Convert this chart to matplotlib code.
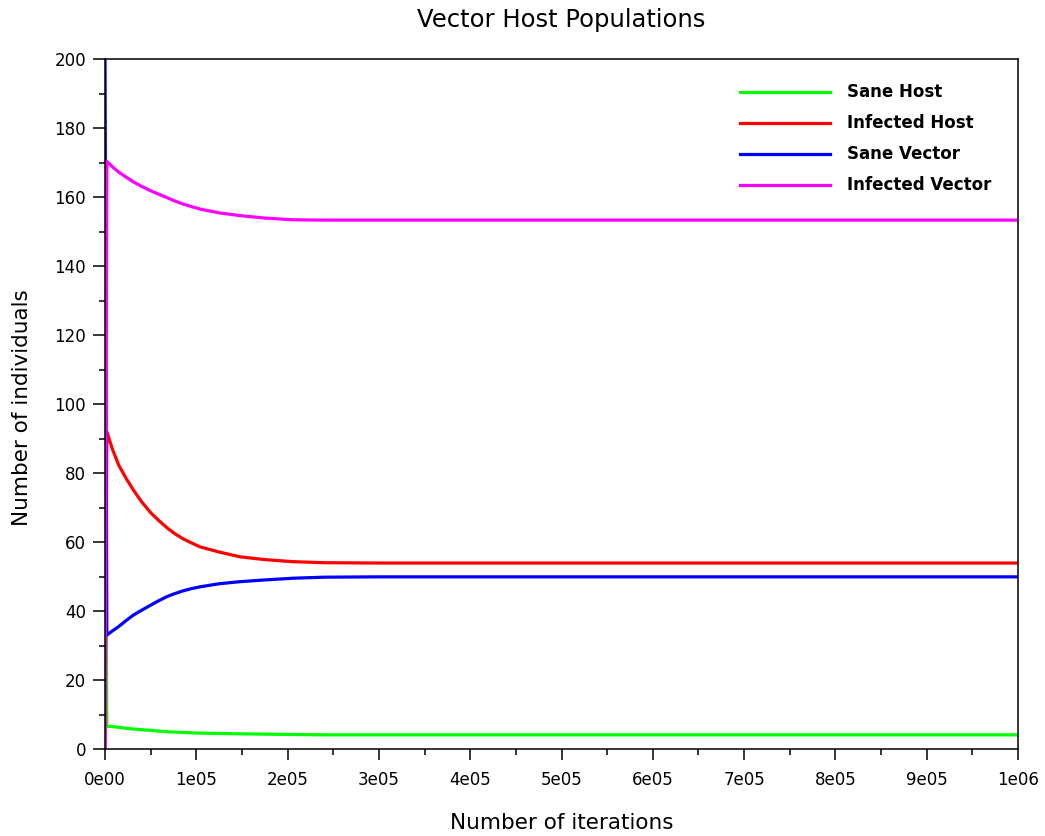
import matplotlib
matplotlib.use("Agg")
import matplotlib.pyplot as plt
from matplotlib.ticker import MultipleLocator

# iteration count and population levels of the four groups
iterations = [0, 2000, 8000, 15000, 23000, 31000, 40000, 50000, 59000, 68000,
              76000, 85000, 95000, 104000, 125000, 148000, 175000, 206000,
              240000, 300000, 1000000]
sane_host = [100, 6.6, 6.5, 6.3, 6.0, 5.8, 5.6, 5.4, 5.2, 5.0,
             4.9, 4.8, 4.7, 4.6, 4.5, 4.4, 4.3, 4.2, 4.1, 4.1, 4.1]
infected_host = [0, 92.0, 87.0, 82.3, 78.5, 75.1, 71.7, 68.5, 66.2, 64.1,
                 62.5, 61.0, 59.7, 58.6, 57.1, 55.7, 54.9, 54.3, 54.0, 53.9, 53.9]
sane_vector = [200, 33.0, 34.2, 35.5, 37.2, 38.8, 40.2, 41.7, 43.0, 44.2,
               45.0, 45.8, 46.5, 47.0, 47.9, 48.5, 49.0, 49.5, 49.8, 49.9, 49.9]
infected_vector = [0, 170.3, 168.8, 167.2, 165.8, 164.4, 163.1, 161.8, 160.8, 159.8,
                   158.9, 158.0, 157.2, 156.5, 155.4, 154.6, 153.9, 153.4, 153.3,
                   153.3, 153.3]

xtick_vals = [0, 1e5, 2e5, 3e5, 4e5, 5e5, 6e5, 7e5, 8e5, 9e5, 1e6]
xtick_labels = ['0e00', '1e05', '2e05', '3e05', '4e05', '5e05',
                '6e05', '7e05', '8e05', '9e05', '1e06']
ytick_vals = [0, 20, 40, 60, 80, 100, 120, 140, 160, 180, 200]

fig = plt.figure(figsize=(10.45, 8.36), dpi=100)
ax = fig.add_axes([105/1045, 1 - 749/836, 913/1045, 690/836])

lw = 2.3
ax.plot(iterations, sane_host, color='#00ff00', lw=lw, label='Sane Host')
ax.plot(iterations, infected_host, color='#ff0000', lw=lw, label='Infected Host')
ax.plot(iterations, sane_vector, color='#0000ff', lw=lw, label='Sane Vector')
ax.plot(iterations, infected_vector, color='#ff00ff', lw=lw, label='Infected Vector')

ax.set_xlim(0, 1e6)
ax.set_ylim(0, 200)
ax.set_xticks(xtick_vals)
ax.set_xticklabels(xtick_labels)
ax.set_yticks(ytick_vals)
ax.xaxis.set_minor_locator(MultipleLocator(5e4))
ax.yaxis.set_minor_locator(MultipleLocator(10))
ax.tick_params(which='major', direction='out', length=8.5, width=1.1,
               labelsize=12, pad=5)
ax.tick_params(which='minor', direction='out', length=4, width=1.1)
ax.tick_params(axis='x', which='major', length=8, pad=8)
for sp in ax.spines.values():
    sp.set_linewidth(1.1)

fig.text(561.5/1045, 1 - 20/836, 'Vector Host Populations', ha='center',
         va='center', fontsize=17.5)
fig.text(561.5/1045, 1 - 823/836, 'Number of iterations', ha='center',
         va='center', fontsize=15.5)
fig.text(22/1045, 1 - 408/836, 'Number of individuals', ha='center',
         va='center', rotation=90, fontsize=15.5)

ax.legend(loc='upper left', bbox_to_anchor=(0.6955, 0.9645), frameon=False,
          borderpad=0, borderaxespad=0, handlelength=5.4, handletextpad=1.05,
          labelspacing=0.78, prop={'size': 12, 'weight': 'bold'})

fig.savefig('out.png', dpi=100)
